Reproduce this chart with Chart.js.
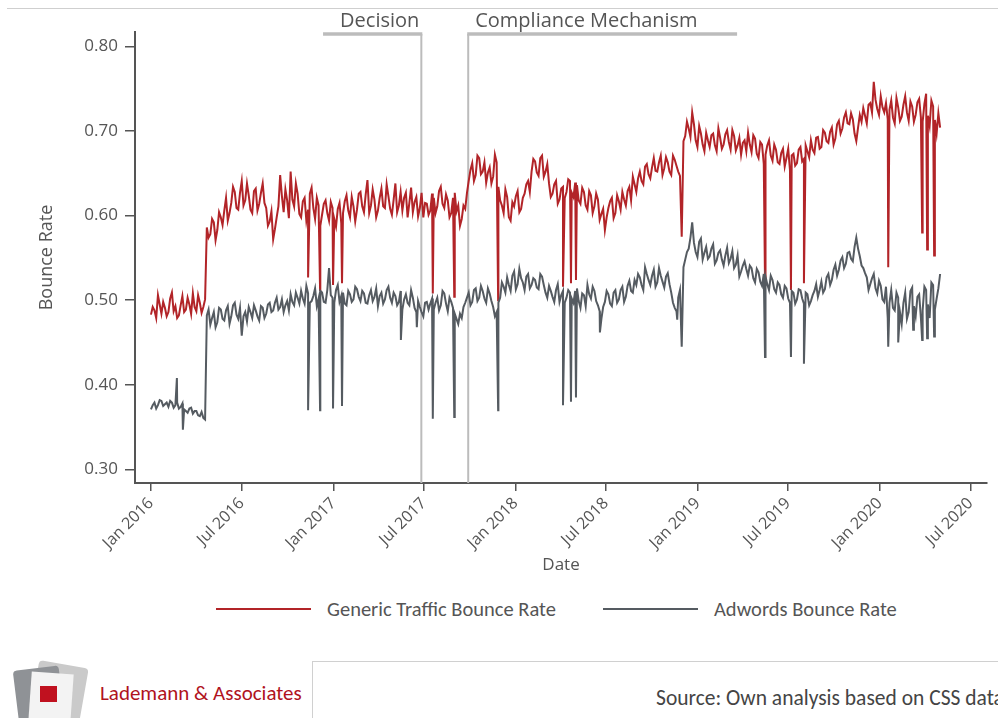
<!DOCTYPE html>
<html>
<head>
<meta charset="utf-8">
<script src="https://cdn.jsdelivr.net/npm/chart.js@4.4.1/dist/chart.umd.min.js"></script>
<style>
  body { margin: 0; background: #fff; width: 998px; height: 718px; overflow: hidden; position: relative; font-family: "Open Sans", sans-serif; }
  #topline { position: absolute; left: 7px; top: 8px; width: 991px; height: 1px; background: #cfcfcf; }
  #chart { position: absolute; left: 0; top: 0; }
  .leg-line { position: absolute; top: 608px; width: 95px; height: 2px; }
  .leg-text { position: absolute; top: 597px; font: 20.5px Carlito, Lato, sans-serif; line-height: 24px; color: #555; white-space: nowrap; }
  #brand { position: absolute; left: 100px; top: 680px; font: 21px Carlito, Lato, sans-serif; line-height: 26px; color: #b0131d; white-space: nowrap; }
  #srcbox { position: absolute; left: 312px; top: 661px; width: 700px; height: 80px; border-top: 1px solid #d0d0d0; border-left: 1px solid #d0d0d0; overflow: hidden; }
  #src { position: absolute; left: 343px; top: 23px; font: 21.5px Carlito, Lato, sans-serif; line-height: 26px; color: #444; white-space: nowrap; }
  .logo { position: absolute; }
</style>
</head>
<body>
<div id="topline"></div>
<canvas id="chart" width="998" height="590"></canvas>

<div class="leg-line" style="left:216px;background:#b22428"></div>
<div class="leg-text" style="left:327px">Generic Traffic Bounce Rate</div>
<div class="leg-line" style="left:603px;background:#555b61"></div>
<div class="leg-text" style="left:714px">Adwords Bounce Rate</div>

<div class="logo" style="left:34px;top:664px;width:50px;height:58px;background:#cacaca;transform:rotate(10deg);border-radius:4px"></div>
<div class="logo" style="left:16px;top:668px;width:46px;height:56px;background:#8f9296;transform:rotate(-7deg);border-radius:4px"></div>
<div class="logo" style="left:30px;top:673px;width:42px;height:50px;background:#f3f3f3;transform:rotate(4deg)"></div>
<div class="logo" style="left:40px;top:686px;width:17px;height:16px;background:#c0111f"></div>
<div id="brand">Lademann &amp; Associates</div>
<div id="srcbox"><div id="src">Source: Own analysis based on CSS data</div></div>

<script>
// days counted from 1 Jan 2016: one reading at the start of each week, one mid-week
const firstDay = 0;
const weekStep = 7;

const genericWeekly = [
  0.483, 0.488, 0.506, 0.484, 0.491, 0.486, 0.509, 0.493, 0.482, 0.505,
  0.489, 0.495, 0.508, 0.487, 0.497, 0.492, 0.586, 0.578, 0.592, 0.583,
  0.598, 0.606, 0.594, 0.615, 0.628, 0.607, 0.641, 0.618, 0.624, 0.603,
  0.632, 0.614, 0.638, 0.609, 0.593, 0.572, 0.598, 0.648, 0.604, 0.618,
  0.652, 0.611, 0.626, 0.598, 0.621, 0.607, 0.633, 0.596, 0.612, 0.601,
  0.618, 0.594, 0.609, 0.587, 0.615, 0.603, 0.624, 0.598, 0.611, 0.607,
  0.628, 0.604, 0.642, 0.612, 0.619, 0.606, 0.632, 0.609, 0.623, 0.601,
  0.638, 0.612, 0.606, 0.627, 0.615, 0.604, 0.622, 0.609, 0.598, 0.614,
  0.606, 0.621, 0.611, 0.634, 0.609, 0.618, 0.603, 0.627, 0.612, 0.596,
  0.608, 0.641, 0.662, 0.648, 0.668, 0.652, 0.639, 0.657, 0.646, 0.663,
  0.618, 0.603, 0.622, 0.594, 0.611, 0.629, 0.608, 0.626, 0.641, 0.652,
  0.664, 0.647, 0.671, 0.652, 0.638, 0.626, 0.641, 0.619, 0.634, 0.628,
  0.641, 0.622, 0.636, 0.614, 0.628, 0.607, 0.624, 0.611, 0.619, 0.602,
  0.583, 0.609, 0.621, 0.603, 0.617, 0.628, 0.612, 0.634, 0.646, 0.628,
  0.652, 0.637, 0.661, 0.644, 0.668, 0.652, 0.671, 0.656, 0.663, 0.648,
  0.666, 0.652, 0.575, 0.694, 0.703, 0.722, 0.689, 0.706, 0.684, 0.698,
  0.681, 0.697, 0.676, 0.692, 0.684, 0.701, 0.678, 0.694, 0.683, 0.672,
  0.689, 0.698, 0.675, 0.691, 0.668, 0.684, 0.672, 0.689, 0.665, 0.678,
  0.661, 0.679, 0.668, 0.654, 0.673, 0.662, 0.681, 0.667, 0.676, 0.689,
  0.674, 0.693, 0.681, 0.698, 0.686, 0.704, 0.691, 0.712, 0.703, 0.722,
  0.708, 0.714, 0.688, 0.719, 0.727, 0.709, 0.733, 0.758, 0.726, 0.741,
  0.722, 0.714, 0.736, 0.709, 0.728, 0.717, 0.741, 0.712, 0.729, 0.719,
  0.738, 0.711, 0.744, 0.706, 0.729, 0.697, 0.704
];

const genericMidweek = [
  0.492, 0.479, 0.495, 0.498, 0.481, 0.502, 0.487, 0.479, 0.494, 0.486,
  0.503, 0.484, 0.492, 0.506, 0.485, 0.501, 0.574, 0.596, 0.571, 0.604,
  0.589, 0.621, 0.603, 0.634, 0.609, 0.627, 0.612, 0.638, 0.607, 0.629,
  0.606, 0.627, 0.615, 0.588, 0.605, 0.584, 0.611, 0.623, 0.631, 0.597,
  0.619, 0.638, 0.602, 0.617, 0.594, 0.626, 0.609, 0.621, 0.588, 0.614,
  0.603, 0.616, 0.596, 0.608, 0.591, 0.617, 0.606, 0.622, 0.593, 0.626,
  0.611, 0.625, 0.603, 0.631, 0.598, 0.621, 0.611, 0.637, 0.608, 0.619,
  0.604, 0.628, 0.621, 0.598, 0.633, 0.616, 0.599, 0.627, 0.615, 0.601,
  0.626, 0.603, 0.629, 0.614, 0.625, 0.598, 0.621, 0.605, 0.588, 0.612,
  0.627, 0.654, 0.641, 0.671, 0.649, 0.663, 0.651, 0.638, 0.672, 0.634,
  0.612, 0.631, 0.598, 0.616, 0.623, 0.604, 0.621, 0.637, 0.628, 0.667,
  0.651, 0.668, 0.646, 0.661, 0.622, 0.637, 0.614, 0.632, 0.621, 0.643,
  0.627, 0.639, 0.618, 0.633, 0.612, 0.629, 0.603, 0.626, 0.595, 0.608,
  0.598, 0.617, 0.597, 0.624, 0.607, 0.619, 0.629, 0.618, 0.637, 0.644,
  0.641, 0.658, 0.649, 0.657, 0.653, 0.663, 0.648, 0.669, 0.652, 0.671,
  0.659, 0.647, 0.688, 0.711, 0.693, 0.708, 0.681, 0.697, 0.676, 0.689,
  0.695, 0.683, 0.703, 0.679, 0.696, 0.687, 0.701, 0.677, 0.692, 0.686,
  0.676, 0.684, 0.695, 0.673, 0.687, 0.661, 0.683, 0.671, 0.684, 0.663,
  0.674, 0.658, 0.679, 0.671, 0.659, 0.678, 0.664, 0.683, 0.669, 0.678,
  0.692, 0.679, 0.701, 0.688, 0.699, 0.684, 0.708, 0.697, 0.716, 0.709,
  0.721, 0.697, 0.704, 0.711, 0.718, 0.731, 0.722, 0.737, 0.719, 0.728,
  0.733, 0.725, 0.716, 0.739, 0.712, 0.731, 0.722, 0.735, 0.711, 0.734,
  0.716, 0.732, 0.718, 0.736, 0.713, 0.721
];

const adwordsWeekly = [
  0.371, 0.379, 0.376, 0.381, 0.377, 0.374, 0.379, 0.376, 0.372, 0.378,
  0.369, 0.372, 0.366, 0.369, 0.363, 0.361, 0.482, 0.471, 0.486, 0.474,
  0.489, 0.476, 0.493, 0.481, 0.497, 0.478, 0.458, 0.486, 0.492, 0.479,
  0.488, 0.476, 0.491, 0.484, 0.497, 0.488, 0.503, 0.492, 0.486, 0.499,
  0.507, 0.494, 0.503, 0.511, 0.496, 0.508, 0.499, 0.514, 0.502, 0.509,
  0.497, 0.538, 0.503, 0.512, 0.498, 0.509, 0.494, 0.507, 0.501, 0.513,
  0.499, 0.508, 0.496, 0.512, 0.504, 0.493, 0.509, 0.501, 0.516, 0.497,
  0.505, 0.498, 0.489, 0.507, 0.494, 0.503, 0.486, 0.492, 0.481, 0.498,
  0.496, 0.489, 0.503, 0.494, 0.508, 0.487, 0.498, 0.484, 0.472, 0.479,
  0.497, 0.509, 0.498, 0.514, 0.503, 0.511, 0.497, 0.508, 0.492, 0.486,
  0.503, 0.516, 0.527, 0.511, 0.534, 0.519, 0.526, 0.512, 0.531, 0.518,
  0.524, 0.513, 0.528, 0.509, 0.517, 0.504, 0.512, 0.498, 0.511, 0.503,
  0.509, 0.497, 0.514, 0.491, 0.506, 0.518, 0.502, 0.511, 0.494, 0.478,
  0.498, 0.507, 0.493, 0.512, 0.501, 0.516, 0.504, 0.523, 0.509, 0.518,
  0.527, 0.512, 0.531, 0.518, 0.536, 0.521, 0.529, 0.515, 0.532, 0.509,
  0.491, 0.503, 0.445, 0.548, 0.561, 0.592, 0.557, 0.569, 0.548, 0.563,
  0.552, 0.566, 0.547, 0.559, 0.541, 0.562, 0.549, 0.538, 0.553, 0.534,
  0.546, 0.529, 0.538, 0.521, 0.533, 0.517, 0.528, 0.512, 0.524, 0.509,
  0.518, 0.503, 0.514, 0.497, 0.509, 0.501, 0.512, 0.496, 0.507, 0.499,
  0.511, 0.504, 0.522, 0.513, 0.531, 0.524, 0.542, 0.536, 0.551, 0.543,
  0.557, 0.546, 0.574, 0.552, 0.538, 0.527, 0.519, 0.531, 0.508, 0.517,
  0.498, 0.479, 0.512, 0.488, 0.503, 0.472, 0.509, 0.486, 0.515, 0.481,
  0.507, 0.488, 0.512, 0.479, 0.518, 0.502, 0.531
];

const adwordsMidweek = [
  0.376, 0.372, 0.382, 0.375, 0.379, 0.381, 0.373, 0.379, 0.374, 0.371,
  0.367, 0.373, 0.369, 0.364, 0.368, 0.359, 0.489, 0.479, 0.468, 0.491,
  0.478, 0.488, 0.472, 0.494, 0.483, 0.491, 0.481, 0.475, 0.486, 0.494,
  0.481, 0.493, 0.479, 0.495, 0.486, 0.497, 0.489, 0.501, 0.494, 0.488,
  0.498, 0.509, 0.496, 0.502, 0.517, 0.497, 0.505, 0.493, 0.511, 0.498,
  0.512, 0.506, 0.497, 0.518, 0.505, 0.496, 0.511, 0.498, 0.516, 0.504,
  0.511, 0.497, 0.506, 0.499, 0.514, 0.505, 0.496, 0.512, 0.503, 0.509,
  0.494, 0.511, 0.501, 0.497, 0.512, 0.491, 0.499, 0.486, 0.497, 0.489,
  0.502, 0.497, 0.488, 0.511, 0.496, 0.503, 0.491, 0.478, 0.484, 0.492,
  0.503, 0.494, 0.512, 0.499, 0.517, 0.502, 0.514, 0.499, 0.481, 0.497,
  0.521, 0.509, 0.518, 0.529, 0.513, 0.537, 0.521, 0.528, 0.514, 0.526,
  0.515, 0.531, 0.518, 0.503, 0.511, 0.498, 0.519, 0.506, 0.497, 0.512,
  0.502, 0.511, 0.499, 0.508, 0.493, 0.507, 0.516, 0.499, 0.487, 0.492,
  0.511, 0.496, 0.509, 0.497, 0.512, 0.498, 0.517, 0.511, 0.524, 0.531,
  0.518, 0.539, 0.524, 0.529, 0.516, 0.538, 0.522, 0.528, 0.519, 0.497,
  0.487, 0.512, 0.539, 0.557, 0.574, 0.568, 0.551, 0.573, 0.556, 0.549,
  0.561, 0.543, 0.556, 0.548, 0.553, 0.544, 0.558, 0.542, 0.528, 0.541,
  0.537, 0.541, 0.526, 0.537, 0.522, 0.531, 0.519, 0.529, 0.513, 0.521,
  0.507, 0.517, 0.502, 0.511, 0.496, 0.513, 0.502, 0.509, 0.494, 0.506,
  0.519, 0.512, 0.509, 0.527, 0.518, 0.536, 0.529, 0.547, 0.538, 0.556,
  0.549, 0.563, 0.561, 0.541, 0.532, 0.512, 0.526, 0.514, 0.523, 0.501,
  0.516, 0.497, 0.491, 0.509, 0.486, 0.497, 0.478, 0.511, 0.493, 0.504,
  0.479, 0.516, 0.495, 0.521, 0.489, 0.514
];

// single-day outliers (day, value)
const genericSpikeDays = [315, 339, 365, 383, 565, 608, 696, 826, 842, 852, 1231, 1283, 1309, 1478, 1546, 1556, 1570];
const genericSpikeVals = [0.527, 0.512, 0.518, 0.520, 0.508, 0.504, 0.500, 0.516, 0.520, 0.524, 0.520, 0.512, 0.520, 0.539, 0.580, 0.560, 0.553];
const adwordsSpikeDays = [52, 64, 315, 339, 365, 383, 501, 533, 565, 608, 696, 826, 842, 852, 900, 1055, 1231, 1283, 1309, 1478, 1498, 1528, 1546, 1556, 1570];
const adwordsSpikeVals = [0.408, 0.347, 0.370, 0.370, 0.372, 0.375, 0.453, 0.468, 0.360, 0.362, 0.370, 0.376, 0.380, 0.385, 0.462, 0.477, 0.433, 0.433, 0.425, 0.445, 0.450, 0.465, 0.453, 0.455, 0.457];

const tickDays = [0, 182, 366, 547, 731, 912, 1096, 1277, 1461, 1643];
const tickLabels = ["Jan 2016", "Jul 2016", "Jan 2017", "Jul 2017", "Jan 2018", "Jul 2018", "Jan 2019", "Jul 2019", "Jan 2020", "Jul 2020"];
const yTicks = [0.30, 0.40, 0.50, 0.60, 0.70, 0.80];

const eventNames = ["Decision", "Compliance Mechanism"];
const eventDays = [542, 636];
const eventBracketEnds = [345, 1175];


function buildSeries(weekly, midweek, spikeDays, spikeVals){
    let pts = weekly.map(function(v, i){ return {x: firstDay + i * weekStep, y: v}; });
    midweek.forEach(function(v, i){ pts.push({x: firstDay + i * weekStep + weekStep / 2, y: v}); });
    spikeDays.forEach(function(d, i){ pts.push({x: d, y: spikeVals[i]}); });
    pts.sort(function(a, b){ return a.x - b.x; });
    return pts;
}

const eventPlugin = {
    id: "events",
    beforeDatasetsDraw(chart){
        const ctx = chart.ctx;
        const x = chart.scales.x;
        const area = chart.chartArea;
        const top = area.top + 2;
        ctx.save();
        ctx.strokeStyle = "#bcbcbc";
        eventNames.forEach(function(name, i){
            let px = x.getPixelForValue(eventDays[i]);
            let bx = x.getPixelForValue(eventBracketEnds[i]);
            ctx.lineWidth = 2;
            ctx.beginPath();
            ctx.moveTo(px, top);
            ctx.lineTo(px, area.bottom);
            ctx.stroke();
            ctx.lineWidth = 3.5;
            ctx.beginPath();
            ctx.moveTo(bx, top);
            ctx.lineTo(px + (bx < px ? 1 : -1), top);
            ctx.stroke();
            ctx.fillStyle = "#555";
            ctx.font = "20px 'Open Sans'";
            ctx.textBaseline = "middle";
            if(bx < px){
                ctx.textAlign = "right";
                ctx.fillText(name, px - 2, top - 13);
            } else {
                ctx.textAlign = "left";
                ctx.fillText(name, px + 7, top - 13);
            }
        });
        ctx.restore();
    }
};

let canv = document.getElementById("chart");
let latestChart = new Chart(canv, {
    type: "line",
    data: {
        datasets: [{
            label: "Generic Traffic Bounce Rate",
            data: buildSeries(genericWeekly, genericMidweek, genericSpikeDays, genericSpikeVals),
            borderColor: "#b22428",
            order: 2,
        }, {
            label: "Adwords Bounce Rate",
            data: buildSeries(adwordsWeekly, adwordsMidweek, adwordsSpikeDays, adwordsSpikeVals),
            borderColor: "#555b61",
            order: 1,
        }],
    },
    options: {
        responsive: false,
        animation: false,
        layout: { padding: { top: 32, right: 11, left: 0, bottom: 0 } },
        elements: {
            point: { radius: 0 },
            line: { borderWidth: 2, tension: 0 },
        },
        plugins: {
            legend: { display: false },
            tooltip: { enabled: false },
        },
        scales: {
            x: {
                type: "linear",
                min: -32,
                max: 1676,
                afterBuildTicks: function(scale){ scale.ticks = tickDays.map(function(d){ return {value: d}; }); },
                afterFit: function(scale){ scale.height = 107; },
                ticks: {
                    autoSkip: false,
                    minRotation: 45,
                    maxRotation: 45,
                    padding: 3,
                    color: "#555",
                    font: { family: "'Open Sans'", size: 16 },
                    callback: function(value){ return tickLabels[tickDays.indexOf(value)]; },
                },
                grid: { drawOnChartArea: false, tickLength: 8, color: "#555", lineWidth: 1.5 },
                border: { color: "#555", width: 2 },
                title: { display: true, text: "Date", color: "#555", font: { family: "'Open Sans'", size: 17 }, padding: { bottom: 15 } },
            },
            y: {
                min: 0.284,
                max: 0.817,
                afterBuildTicks: function(scale){ scale.ticks = yTicks.map(function(v){ return {value: v}; }); },
                afterFit: function(scale){ scale.width = 135; },
                ticks: {
                    padding: 7,
                    color: "#555",
                    font: { family: "'Open Sans'", size: 17 },
                    callback: function(value){ return value.toFixed(2); },
                },
                grid: { drawOnChartArea: false, tickLength: 10, color: "#555", lineWidth: 1.5 },
                border: { color: "#555", width: 2 },
                title: { display: true, text: "Bounce Rate", color: "#555", font: { family: "'Open Sans'", size: 18 }, padding: { top: 36 } },
            },
        },
    },
    plugins: [eventPlugin],
});
</script>
</body>
</html>
